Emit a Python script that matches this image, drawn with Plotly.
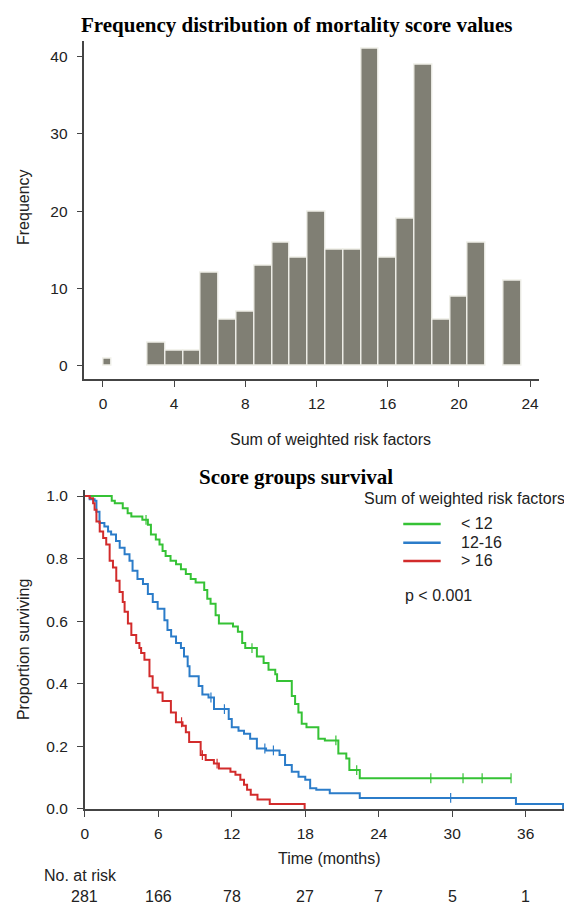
import plotly.graph_objects as go

# ---------------- data ----------------
score_values = list(range(0, 24))
score_counts = [1, 0, 0, 3, 2, 2, 12, 6, 7, 13, 16, 14, 20, 15, 15, 41, 14, 19, 39, 6, 9, 16, 0, 11]

hist_xticks = [0, 4, 8, 12, 16, 20, 24]
hist_yticks = [0, 10, 20, 30, 40]

group_names = ["< 12", "12-16", "> 16"]

green_t = [0, 2.2, 2.45, 3.1, 3.5, 3.8, 4.7, 5.15, 5.4, 5.8, 6.1, 6.35, 6.6, 7.0, 7.45, 7.85, 8.25,
           8.65, 9.05, 9.75, 10.0, 10.27, 10.68, 10.95, 12.1, 12.5, 12.85, 13.1, 14.05, 14.6, 15.0,
           15.55, 15.7, 16.9, 17.17, 17.44, 17.71, 18.1, 19.07, 19.6, 20.7, 21.35, 21.6, 22.45, 34.8]
green_s = [1.0, 0.985, 0.977, 0.961, 0.945, 0.935, 0.924, 0.908, 0.877, 0.861, 0.845, 0.824, 0.808,
           0.793, 0.782, 0.766, 0.751, 0.735, 0.724, 0.70, 0.672, 0.656, 0.619, 0.593, 0.583, 0.566,
           0.53, 0.514, 0.487, 0.466, 0.445, 0.43, 0.409, 0.361, 0.335, 0.308, 0.272, 0.261, 0.224,
           0.219, 0.177, 0.161, 0.124, 0.098, 0.098]
green_cens_t = [5.0, 13.65, 20.5, 22.2, 28.25, 30.88, 32.44, 34.8]
green_cens_s = [0.924, 0.514, 0.219, 0.124, 0.098, 0.098, 0.098, 0.098]

blue_t = [0, 0.4, 0.8, 0.95, 1.2, 1.6, 1.9, 2.15, 2.55, 2.85, 3.25, 3.65, 3.9, 4.3, 4.75, 5.15, 5.55,
          5.95, 6.5, 6.75, 7.05, 7.45, 7.85, 8.1, 8.4, 8.55, 9.3, 9.6, 10.1, 10.55, 11.75, 12.0, 12.55,
          13.0, 13.5, 14.05, 14.8, 15.9, 16.35, 16.9, 17.45, 18.0, 18.4, 18.9, 20.0, 22.45, 35.2, 39.05]
blue_s = [1.0, 0.99, 0.985, 0.95, 0.914, 0.903, 0.887, 0.877, 0.856, 0.835, 0.814, 0.793, 0.761,
          0.735, 0.719, 0.687, 0.661, 0.64, 0.603, 0.572, 0.551, 0.53, 0.514, 0.487, 0.456, 0.424,
          0.393, 0.366, 0.356, 0.319, 0.287, 0.261, 0.25, 0.24, 0.224, 0.193, 0.187, 0.172, 0.14,
          0.119, 0.103, 0.093, 0.066, 0.061, 0.05, 0.035, 0.016, 0.0]
blue_cens_t = [10.3, 11.4, 14.7, 15.4, 29.87]
blue_cens_s = [0.356, 0.319, 0.193, 0.187, 0.035]

red_t = [0, 0.4, 0.68, 0.8, 0.95, 1.22, 1.5, 1.75, 2.03, 2.3, 2.57, 2.84, 3.1, 3.25, 3.52, 3.8, 4.2,
         4.46, 4.6, 4.87, 5.28, 5.54, 5.95, 6.35, 7.03, 7.44, 7.98, 8.25, 8.52, 9.46, 9.87, 10.54,
         10.95, 11.89, 12.3, 12.7, 13.0, 13.25, 13.55, 14.1, 15.1, 17.95]
red_s = [1.0, 0.993, 0.977, 0.956, 0.919, 0.887, 0.866, 0.845, 0.793, 0.772, 0.729, 0.693, 0.661,
         0.63, 0.593, 0.556, 0.53, 0.514, 0.498, 0.477, 0.424, 0.387, 0.372, 0.345, 0.308, 0.277,
         0.266, 0.245, 0.214, 0.172, 0.156, 0.145, 0.129, 0.119, 0.109, 0.093, 0.077, 0.061, 0.045,
         0.03, 0.016, 0.0]
red_cens_t = [7.9, 9.6, 10.8]
red_cens_s = [0.277, 0.172, 0.145]

km_xticks = [0, 6, 12, 18, 24, 30, 36]
km_yticks = [0.0, 0.2, 0.4, 0.6, 0.8, 1.0]
at_risk = [281, 166, 78, 27, 7, 5, 1]

# ---------------- style ----------------
W, H = 572, 906
GREEN, BLUE, RED = "#35c235", "#2b7cc9", "#d22b2b"
BAR = "#807f74"
AXC = "#444444"
TXT = "#222222"
SANS = "Liberation Sans, Arial, sans-serif"
SERIF = "Liberation Serif, Times New Roman, serif"


def px(x):
    return x / W


def py(y):
    return 1 - y / H


fig = go.Figure()

# histogram bars
bar_x, bar_w, bar_y = [], [], []
for s, c in zip(score_values, score_counts):
    if c == 0:
        continue
    w = 0.45 if s == 0 else 1.0
    left = 0.0 if s == 0 else s - 0.5
    bar_x.append(left)
    bar_w.append(w)
    bar_y.append(c)
fig.add_trace(go.Bar(x=bar_x, y=bar_y, width=bar_w, offset=0,
                     marker=dict(color=BAR, line=dict(color="#efefe8", width=1.4)),
                     xaxis="x", yaxis="y", hoverinfo="skip"))

# KM curves
for t, s, ct, cs, col in [(green_t, green_s, green_cens_t, green_cens_s, GREEN),
                          (blue_t, blue_s, blue_cens_t, blue_cens_s, BLUE),
                          (red_t, red_s, red_cens_t, red_cens_s, RED)]:
    fig.add_trace(go.Scatter(x=t, y=s, mode="lines", line=dict(color=col, width=2, shape="hv"),
                             xaxis="x2", yaxis="y2", hoverinfo="skip"))
    fig.add_trace(go.Scatter(x=ct, y=cs, mode="markers",
                             marker=dict(symbol="line-ns-open", size=7, color=col,
                                         line=dict(color=col, width=1.2)),
                             xaxis="x2", yaxis="y2", hoverinfo="skip"))

axis_common = dict(showline=True, linecolor=AXC, linewidth=1.6, ticks="outside", ticklen=6,
                   tickwidth=1.4, tickcolor=AXC, showgrid=False, zeroline=False,
                   tickfont=dict(family=SANS, size=15.5, color=TXT))

fig.update_layout(
    width=W, height=H, margin=dict(l=0, r=0, t=0, b=0),
    paper_bgcolor="white", plot_bgcolor="white", showlegend=False, bargap=0,
    xaxis=dict(domain=[px(73), px(530.7)], range=[-1.04, 24.5], tickvals=hist_xticks,
               anchor="y", ticklabelstandoff=4, **axis_common),
    yaxis=dict(domain=[py(372.5), py(30)], range=[-1.69, 42.06], tickvals=hist_yticks,
               anchor="x", ticklabelstandoff=6, **axis_common),
    xaxis2=dict(domain=[px(73.3), px(566.7)], range=[0, 40], tickvals=km_xticks,
                anchor="y2", ticklabelstandoff=4, **axis_common),
    yaxis2=dict(domain=[py(807.7), py(485)], range=[0, 1.019], tickvals=km_yticks,
                tickformat=".1f", anchor="x2", ticklabelstandoff=6, **axis_common),
)

ann = []


def text(x, y, s, size=16, xanchor="center", family=SANS, bold=False, angle=0, xref="paper"):
    ann.append(dict(x=x, y=py(y), xref=xref, yref="paper", text=("<b>%s</b>" % s) if bold else s,
                    showarrow=False, xanchor=xanchor, yanchor="middle", textangle=angle,
                    font=dict(family=family, size=size, color="black" if bold else TXT)))


text(0.5, 14, "Frequency distribution of mortality score values", size=21, family=SERIF, bold=True)
text(px(11), 198.5, "Frequency", angle=-90)
text(px(320.6), 433.3, "Sum of weighted risk factors")

text(0.5, 471.7, "Score groups survival", size=21, family=SERIF, bold=True)
text(px(11.5), 646.5, "Proportion surviving", angle=-90)
text(px(320), 858, "Time (months)")
text(px(30.3), 875, "No. at risk", xanchor="left")
for tk, n in zip(km_xticks, at_risk):
    text(tk, 896, str(n), xref="x2")

# legend
text(px(352), 493.3, "Sum of weighted risk factors", xanchor="left")
shapes = []
for name, col, yy in zip(group_names, [GREEN, BLUE, RED], [519.3, 538.3, 556.7]):
    shapes.append(dict(type="line", xref="paper", yref="paper", x0=px(394), x1=px(431.7),
                       y0=py(yy), y1=py(yy), line=dict(color=col, width=2.5)))
    text(px(450), yy, name, xanchor="left")
text(px(393.3), 591.7, "p < 0.001", xanchor="left")

fig.update_layout(annotations=ann, shapes=shapes)
fig.write_html("out.html")
